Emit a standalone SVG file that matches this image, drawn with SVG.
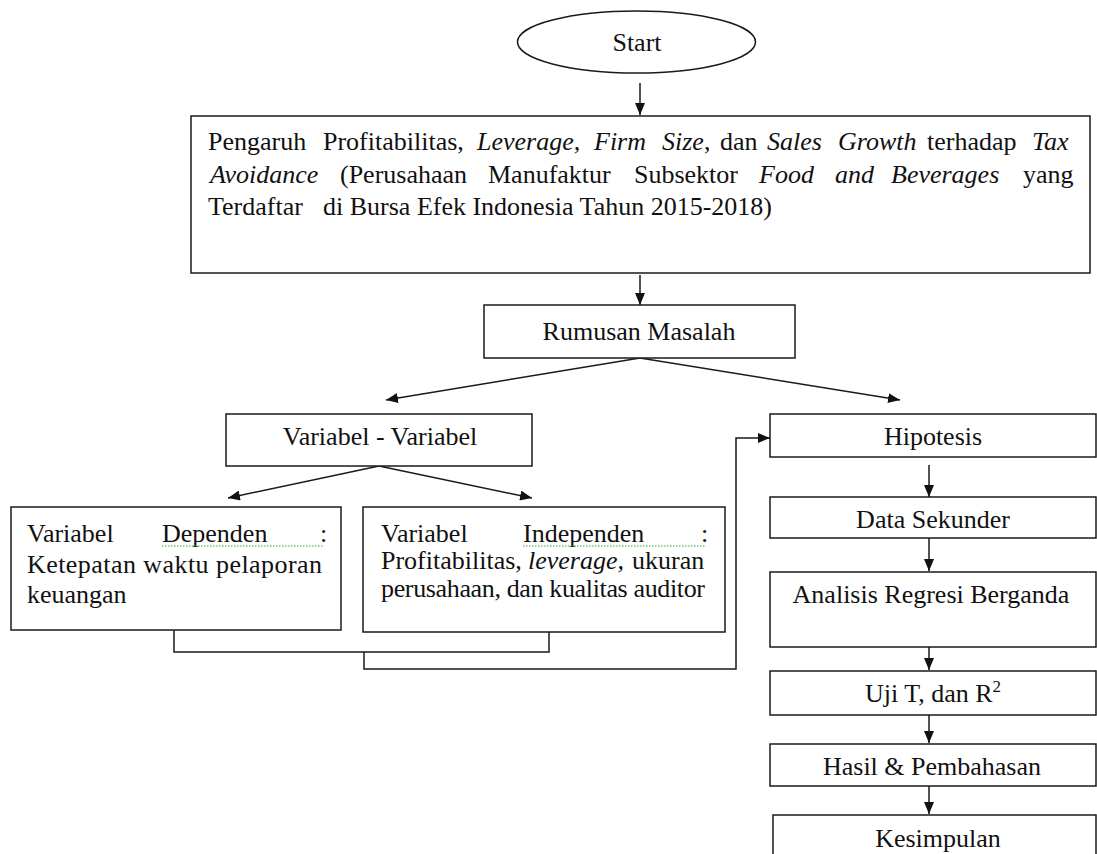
<svg xmlns="http://www.w3.org/2000/svg" width="1097" height="854" viewBox="0 0 1097 854">
<style>
.box{fill:#fff;stroke:#1a1a1a;stroke-width:1.5}
.t{font-family:"Liberation Serif","Times New Roman",serif;font-size:26px;fill:#111}
.c{text-anchor:middle}
.i{font-style:italic}
.ln{fill:none;stroke:#1a1a1a;stroke-width:1.5}
.sp{fill:none;stroke:#3aa83a;stroke-width:1.2;stroke-dasharray:1.5 1.5}
</style>
<defs>
<marker id="ah" markerWidth="12" markerHeight="10" refX="12" refY="5" orient="auto" markerUnits="userSpaceOnUse">
<path d="M0,0 L12,5 L0,10 z" fill="#111"/>
</marker>
</defs>
<rect width="1097" height="854" fill="#fff"/>

<g id="connectors">
<line class="ln" x1="640" y1="83" x2="640" y2="115" marker-end="url(#ah)"/>
<line class="ln" x1="640" y1="275" x2="640" y2="305" marker-end="url(#ah)"/>
<line class="ln" x1="640" y1="358" x2="386" y2="400" marker-end="url(#ah)"/>
<line class="ln" x1="640" y1="358" x2="900" y2="400" marker-end="url(#ah)"/>
<line class="ln" x1="379" y1="466" x2="228" y2="498" marker-end="url(#ah)"/>
<line class="ln" x1="379" y1="466" x2="532" y2="498" marker-end="url(#ah)"/>
<line class="ln" x1="929" y1="465" x2="929" y2="497" marker-end="url(#ah)"/>
<line class="ln" x1="929" y1="538" x2="929" y2="571" marker-end="url(#ah)"/>
<line class="ln" x1="929" y1="637" x2="929" y2="670" marker-end="url(#ah)"/>
<line class="ln" x1="929" y1="712" x2="929" y2="743" marker-end="url(#ah)"/>
<line class="ln" x1="929" y1="786" x2="929" y2="814" marker-end="url(#ah)"/>
<polyline class="ln" points="174,630 174,652 549,652 549,632"/>
<polyline class="ln" points="364,652 364,669 736,669 736,438 770,438" marker-end="url(#ah)"/>
</g>

<g id="start">
<ellipse class="box" cx="636.5" cy="42" rx="119" ry="31"/>
<text class="t c" x="637" y="51">Start</text>
</g>

<g id="judul">
<rect class="box" x="191" y="116" width="899" height="157"/>
<text class="t" y="150"><tspan x="208">Pengaruh</tspan><tspan x="323">Profitabilitas,</tspan><tspan x="477" class="i">Leverage,</tspan><tspan x="594" class="i">Firm</tspan><tspan x="662" class="i">Size</tspan><tspan>,</tspan><tspan x="720">dan</tspan><tspan x="767" class="i">Sales</tspan><tspan x="838" class="i">Growth</tspan><tspan x="927">terhadap</tspan><tspan x="1032" class="i">Tax</tspan></text>
<text class="t" y="183"><tspan x="210" class="i">Avoidance</tspan><tspan x="340">(Perusahaan</tspan><tspan x="488">Manufaktur</tspan><tspan x="634">Subsektor</tspan><tspan x="759" class="i">Food</tspan><tspan x="835" class="i">and</tspan><tspan x="891" class="i">Beverages</tspan><tspan x="1023">yang</tspan></text>
<text class="t" y="215"><tspan x="208">Terdaftar</tspan><tspan x="323">di Bursa Efek Indonesia Tahun 2015-2018)</tspan></text>
</g>

<g id="rumusan">
<rect class="box" x="484" y="305" width="311" height="53"/>
<text class="t c" x="639" y="340">Rumusan Masalah</text>
</g>

<g id="variabel">
<rect class="box" x="226" y="414" width="306" height="52"/>
<text class="t c" x="380" y="445">Variabel - Variabel</text>
</g>

<g id="dependen">
<rect class="box" x="11" y="507" width="330" height="123"/>
<text class="t" y="542"><tspan x="27">Variabel</tspan><tspan x="162">Dependen</tspan><tspan x="320">:</tspan></text>
<path class="sp" d="M162,546 L323,546"/>
<text class="t" x="27" y="573" textLength="295" lengthAdjust="spacing">Ketepatan waktu pelaporan</text>
<text class="t" x="27" y="603">keuangan</text>
</g>

<g id="independen">
<rect class="box" x="363" y="507" width="362" height="125"/>
<text class="t" y="542"><tspan x="381">Variabel</tspan><tspan x="523">Independen</tspan><tspan x="701">:</tspan></text>
<path class="sp" d="M523,546 L706,546"/>
<text class="t" y="569"><tspan x="381">Profitabilitas,</tspan><tspan x="528" class="i">leverage,</tspan><tspan x="632">ukuran</tspan></text>
<text class="t" x="381" y="597" textLength="324" lengthAdjust="spacing">perusahaan, dan kualitas auditor</text>
</g>

<g id="hipotesis">
<rect class="box" x="770" y="414" width="326" height="43"/>
<text class="t c" x="933" y="445">Hipotesis</text>
</g>

<g id="data">
<rect class="box" x="770" y="497" width="326" height="41"/>
<text class="t c" x="933" y="528">Data Sekunder</text>
</g>

<g id="analisis">
<rect class="box" x="770" y="572" width="326" height="75"/>
<text class="t c" x="931" y="603">Analisis Regresi Berganda</text>
</g>

<g id="uji">
<rect class="box" x="770" y="671" width="326" height="44"/>
<text class="t c" x="933" y="702">Uji T, dan R<tspan dy="-10" font-size="17">2</tspan></text>
</g>

<g id="hasil">
<rect class="box" x="770" y="744" width="326" height="42"/>
<text class="t c" x="932" y="775">Hasil &amp; Pembahasan</text>
</g>

<g id="kesimpulan">
<rect class="box" x="773" y="815" width="323" height="60"/>
<text class="t c" x="938" y="847">Kesimpulan</text>
</g>
</svg>
